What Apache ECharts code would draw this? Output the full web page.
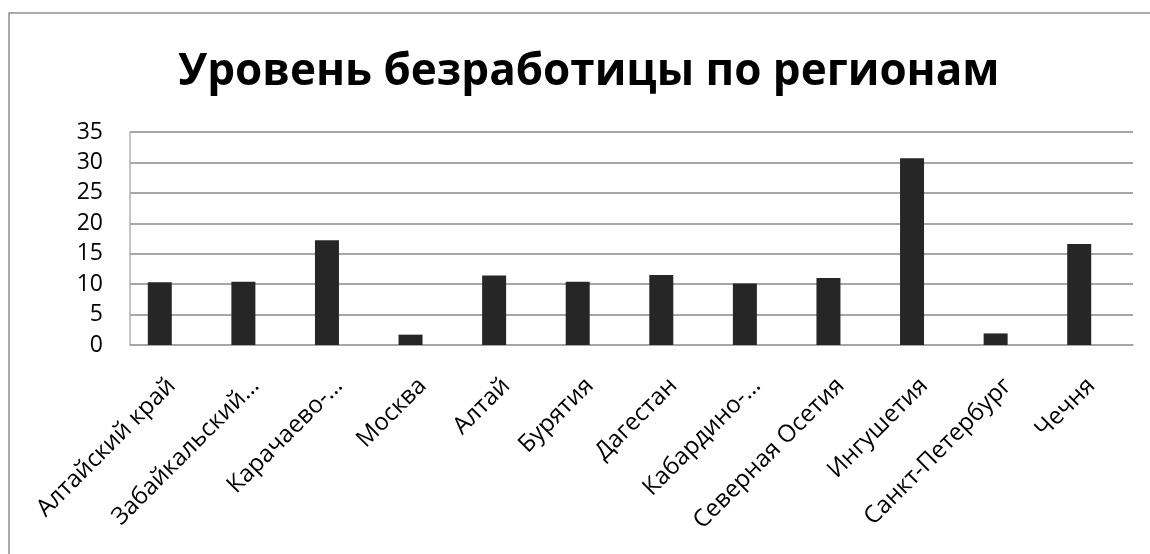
<!DOCTYPE html>
<html>
<head>
<meta charset="utf-8">
<style>
  html, body { margin: 0; padding: 0; background: #fff; }
  #chart { width: 1150px; height: 554px; }
</style>
<script src="https://cdn.jsdelivr.net/npm/echarts@6/dist/echarts.min.js"></script>
</head>
<body>
<div id="chart"></div>
<script>
var titleText = 'Уровень безработицы по регионам';
var regions = ['Алтайский край', 'Забайкальский…', 'Карачаево-…', 'Москва', 'Алтай', 'Бурятия',
  'Дагестан', 'Кабардино-…', 'Северная Осетия', 'Ингушетия', 'Санкт-Петербург', 'Чечня'];
var unemployment = [10.3, 10.4, 17.2, 1.7, 11.4, 10.4, 11.5, 10.1, 11.0, 30.7, 1.9, 16.6];
var yTicks = [0, 5, 10, 15, 20, 25, 30, 35];

(function() {
  var chart = echarts.init(document.getElementById('chart'));
  var font = '"Open Sans", "Noto Sans", sans-serif';

  var option = {
    backgroundColor: '#fff',
    animation: false,
    title: {
      text: titleText,
      left: 173,
      top: 45,
      textStyle: { fontFamily: font, fontSize: 44, fontWeight: 'bold', color: '#000' }
    },
    graphic: [{
      type: 'rect',
      shape: { x: 9, y: 13, width: 1160, height: 560 },
      style: { fill: null, stroke: '#8f8f8f', lineWidth: 1.5 },
      silent: true
    }],
    grid: { left: 130, right: 17, top: 132, bottom: 209, outerBoundsMode: 'none' },
    xAxis: {
      type: 'category',
      data: regions,
      axisLine: { lineStyle: { color: '#a6a6a6', width: 1.5 } },
      axisTick: { show: false },
      axisLabel: {
        rotate: 45,
        interval: 0,
        margin: 37,
        fontFamily: font,
        fontSize: 24,
        color: '#000'
      }
    },
    yAxis: {
      type: 'value',
      min: yTicks[0],
      max: yTicks[yTicks.length - 1],
      interval: 5,
      axisLine: { show: true, lineStyle: { color: '#b0b0b0', width: 1.5 } },
      axisTick: { show: false },
      splitLine: { lineStyle: { color: '#888', width: 1.5 } },
      axisLabel: {
        margin: 27,
        fontFamily: font,
        fontSize: 23,
        color: '#000'
      }
    },
    series: [{
      type: 'bar',
      data: unemployment,
      barWidth: 24,
      barGap: '0%',
      itemStyle: { color: '#262626' }
    }, {
      // пустой второй ряд, как в исходной таблице: сдвигает столбцы влево
      type: 'bar',
      data: [],
      barWidth: 24
    }]
  };
  chart.setOption(option);
})();
</script>
</body>
</html>
